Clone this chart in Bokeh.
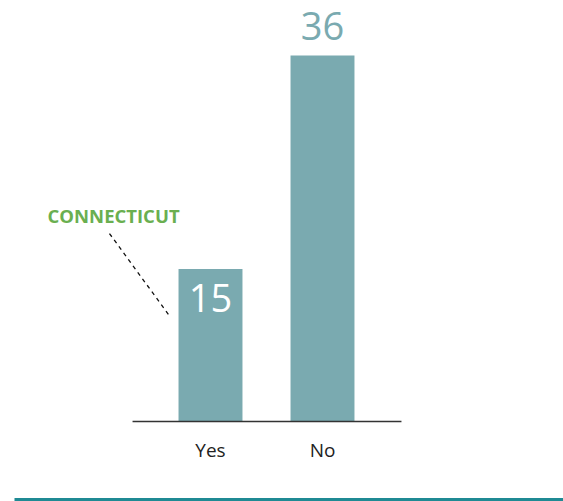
from bokeh.plotting import figure
from bokeh.models import Range1d, ColumnDataSource
from bokeh.core.properties import value
from bokeh.embed import file_html
from bokeh.resources import INLINE
import numpy as np

categories = ["Yes", "No"]
values = [15, 36]
annotation_text = "CONNECTICUT"

W, H = 563, 501
p = figure(width=W, height=H, output_backend="svg", toolbar_location=None,
           x_range=Range1d(-1.875, 3.1518), y_range=Range1d(-7.869, 41.41),
           min_border=0, outline_line_color=None)
p.axis.visible = False
p.grid.visible = False
p.background_fill_color = "white"
p.border_fill_color = "white"

xs = np.arange(len(categories))
src = ColumnDataSource(dict(x=xs, top=values, cat=categories,
                            lbl=[str(v) for v in values]))

bar_color = "#7aaab0"
p.vbar(x="x", top="top", bottom=0, width=0.571, source=src,
       fill_color=bar_color, line_color=None)

# baseline
p.segment(x0=[-0.696], y0=[0], x1=[1.705], y1=[0], line_color="#333333", line_width=1.5)

# category labels
p.text(x="x", y=0, text="cat", source=src, text_align="center", text_baseline="top",
       y_offset=16, text_font=value("Open Sans"), text_font_size="19px", text_color="#222222")

# value labels: first inside (white), second above (teal)
p.text(x=[xs[0]], y=[values[0]], text=[str(values[0])], text_align="center",
       text_baseline="alphabetic", y_offset=29, text_font=value("Open Sans"),
       text_font_size="38px", text_color="white")
p.text(x=[xs[1]], y=[values[1]], text=[str(values[1])], text_align="center",
       text_baseline="alphabetic", y_offset=-30, text_font=value("Open Sans"),
       text_font_size="38px", text_color=bar_color)

# annotation
p.text(x=[-1.455], y=[20.26], text=[annotation_text], text_align="left",
       text_baseline="middle", text_font=value("Open Sans"), text_font_size="18.5px",
       text_font_style="bold", text_color="#6aaf50")
p.segment(x0=[-0.902], y0=[18.49], x1=[-0.375], y1=[10.52], line_color="#111111",
          line_width=1.3, line_dash="4 4")

# bottom rule
p.segment(x0=[-1.75], y0=[-7.672], x1=[3.1518], y1=[-7.672], line_color="#1f8a94", line_width=3)

open("out.html", "w").write(file_html(p, INLINE))
